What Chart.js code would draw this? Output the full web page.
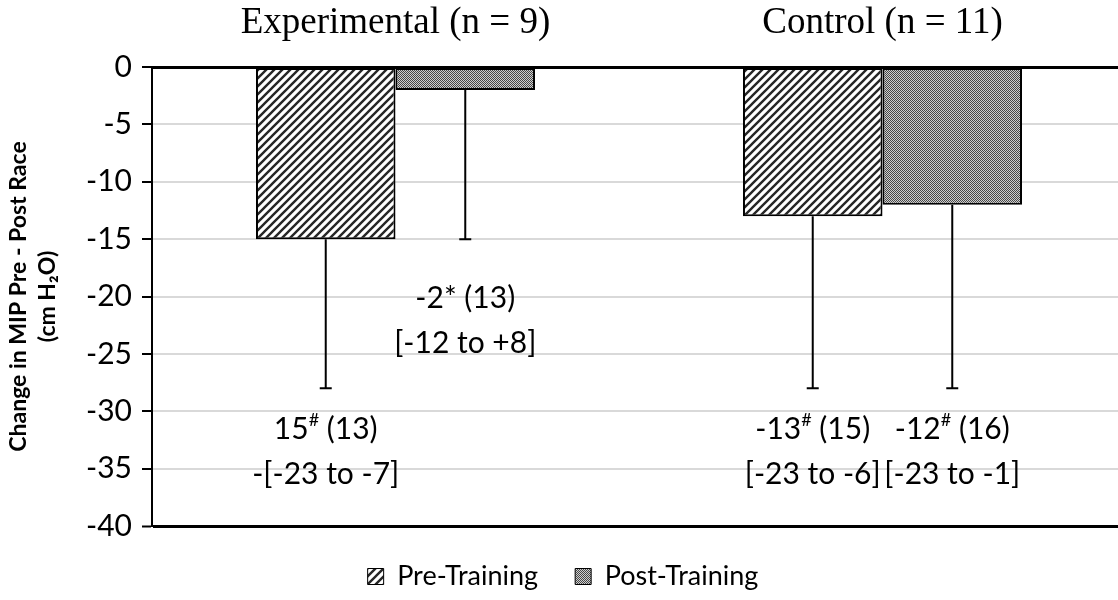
<!DOCTYPE html>
<html>
<head>
<meta charset="utf-8">
<script src="https://cdn.jsdelivr.net/npm/chart.js@4.4.1/dist/chart.umd.min.js"></script>
<style>
html, body { margin: 0; padding: 0; background: #fff; overflow: hidden; }
#box { width: 1118px; height: 600px; overflow: hidden; }
</style>
</head>
<body>
<div id="box"><canvas id="chart" width="1126" height="600"></canvas></div>
<script>
// data
var categories = ["Experimental (n = 9)", "Control (n = 11)"];
var preTraining = [-15, -13];
var postTraining = [-2, -12];
var preSD = [13, 15];   // error bars drawn downward only
var postSD = [13, 16];
var yTicks = [0, -5, -10, -15, -20, -25, -30, -35, -40];
// "^x" = superscript character
var preText = [["15^# (13)", "-[-23 to -7]"], ["-13^# (15)", "[-23 to -6]"]];
var postText = [["-2* (13)", "[-12 to +8]"], ["-12^# (16)", "[-23 to -1]"]];

var canvas = document.getElementById("chart");
var ctx = canvas.getContext('2d');

// fill patterns like the excel ones
function hatchPattern() {
    var t = document.createElement('canvas');
    t.width = 8; t.height = 8;
    var g = t.getContext('2d');
    g.fillStyle = '#fff';
    g.fillRect(0, 0, 8, 8);
    g.strokeStyle = '#262626';
    g.lineWidth = 2.4;
    g.beginPath();
    g.moveTo(-1, 9); g.lineTo(9, -1);
    g.moveTo(-5, 5); g.lineTo(5, -5);
    g.moveTo(3, 13); g.lineTo(13, 3);
    g.stroke();
    return ctx.createPattern(t, 'repeat');
}
function dotPattern() {
    var t = document.createElement('canvas');
    t.width = 2; t.height = 2;
    var g = t.getContext('2d');
    g.fillStyle = '#cfcfcf';
    g.fillRect(0, 0, 2, 2);
    g.fillStyle = '#474747';
    g.fillRect(0, 0, 1, 1);
    g.fillRect(1, 1, 1, 1);
    return ctx.createPattern(t, 'repeat');
}

var sdList = [preSD, postSD];
var textList = [preText, postText];

// error bars (minus side only)
var errorBars = {
    id: 'errorBars',
    afterDatasetsDraw: function(chart) {
        var c = chart.ctx, y = chart.scales.y;
        c.save();
        c.strokeStyle = '#000';
        c.lineWidth = 2;
        chart.data.datasets.forEach(function(ds, i) {
            chart.getDatasetMeta(i).data.forEach(function(bar, j) {
                var y0 = y.getPixelForValue(ds.data[j]);
                var y1 = y.getPixelForValue(ds.data[j] - sdList[i][j]);
                c.beginPath();
                c.moveTo(bar.x, y0); c.lineTo(bar.x, y1);
                c.moveTo(bar.x - 6, y1); c.lineTo(bar.x + 6, y1);
                c.stroke();
            });
        });
        c.restore();
    }
};

function richWidth(c, parts, font, supFont) {
    var w = 0;
    parts.forEach(function(p) { c.font = p.sup ? supFont : font; w += c.measureText(p.t).width; });
    return w;
}
function splitSup(s) {
    var parts = [], buf = '';
    for (var k = 0; k < s.length; k++) {
        if (s[k] === '^') {
            if (buf) parts.push({t: buf});
            parts.push({t: s[k + 1], sup: true});
            buf = ''; k++;
        } else buf += s[k];
    }
    if (buf) parts.push({t: buf});
    return parts;
}

// the mean (SD) [CI] texts under the bars
var barTexts = {
    id: 'barTexts',
    afterDraw: function(chart, args, opts) {
        var c = chart.ctx, y = chart.scales.y;
        var font = opts.size + 'px Lato', supFont = Math.round(opts.size * 0.6) + 'px Lato';
        c.save();
        c.fillStyle = '#000';
        c.textBaseline = 'middle';
        c.textAlign = 'left';
        textList.forEach(function(lines, i) {
            chart.getDatasetMeta(i).data.forEach(function(bar, j) {
                var top = y.getPixelForValue(opts.at[i][j]);
                lines[j].forEach(function(line, n) {
                    var parts = splitSup(line);
                    var x = bar.x - richWidth(c, parts, font, supFont) / 2;
                    var yy = top + n * opts.lineGap;
                    parts.forEach(function(p) {
                        c.font = p.sup ? supFont : font;
                        c.fillText(p.t, x, p.sup ? yy - opts.size * 0.32 : yy);
                        x += c.measureText(p.t).width;
                    });
                });
            });
        });
        c.restore();
    }
};

var chart = new Chart(ctx, {
    type: 'bar',
    data: {
        labels: categories,
        datasets: [{
            label: 'Pre-Training',
            data: preTraining,
            backgroundColor: hatchPattern(),
            borderColor: '#000',
            borderWidth: 2,
            borderSkipped: false
        }, {
            label: 'Post-Training',
            data: postTraining,
            backgroundColor: dotPattern(),
            borderColor: '#000',
            borderWidth: 2,
            borderSkipped: false
        }]
    },
    options: {
        responsive: false,
        animation: false,
        layout: { padding: 0 },
        datasets: { bar: { categoryPercentage: 0.573, barPercentage: 1 } },
        scales: {
            x: {
                position: 'top',
                grid: { display: false, drawTicks: false },
                border: { color: '#000', width: 3 },
                ticks: { color: '#000', padding: 22, font: { family: 'Liberation Serif', size: 37 } },
                afterFit: function(s) { s.height = 67; }
            },
            y: {
                min: -40, max: 0,
                afterBuildTicks: function(s) { s.ticks = yTicks.map(function(v) { return {value: v}; }); },
                ticks: { color: '#000', padding: 10, font: { family: 'Lato', size: 30 } },
                grid: {
                    color: function(c) { return c.tick && c.tick.value === -40 ? '#000' : '#d9d9d9'; },
                    lineWidth: function(c) { return c.tick && c.tick.value === -40 ? 3 : 2; },
                    tickColor: '#000', tickLength: 10, tickWidth: 2
                },
                border: { color: '#000', width: 2 },
                title: {
                    display: true,
                    text: ['Change in MIP Pre - Post Race', '(cm H\u2082O)'],
                    color: '#000',
                    padding: { top: 4, bottom: 0 },
                    font: { family: 'Lato', size: 23, weight: 'bold', lineHeight: 1.25 }
                },
                afterFit: function(s) { s.width = 152; }
            }
        },
        plugins: {
            legend: {
                position: 'bottom',
                labels: {
                    color: '#000',
                    padding: 37,
                    boxWidth: 16,
                    boxHeight: 16,
                    font: { family: 'Lato', size: 27 },
                    generateLabels: function(chart) {
                        var items = Chart.defaults.plugins.legend.labels.generateLabels(chart);
                        items.forEach(function(it) { it.lineWidth = 1; });
                        return items;
                    }
                }
            },
            tooltip: { enabled: false },
            barTexts: { size: 30, lineGap: 45, at: [[-31.6, -31.6], [-20.2, -31.6]] }
        }
    },
    plugins: [errorBars, barTexts]
});
</script>
</body>
</html>
